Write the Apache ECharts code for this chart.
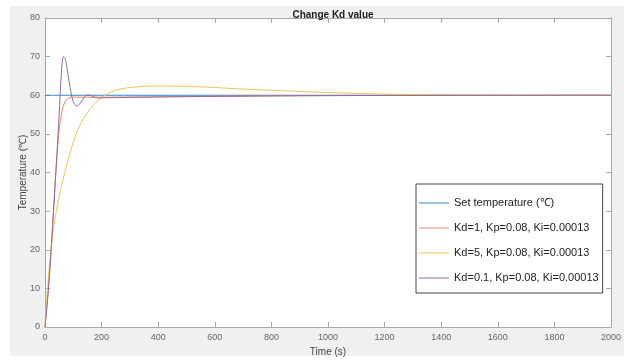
<!DOCTYPE html>
<html><head><meta charset="utf-8">
<script src="https://cdn.jsdelivr.net/npm/echarts@6/dist/echarts.min.js"></script>
<style>html,body{margin:0;padding:0;background:#fff}#c{width:624px;height:362px}</style>
</head><body><div id="c"></div>
<script>
// ---- data ----
const chartTitle = 'Change Kd value';
const xName = 'Time (s)';
const yName = 'Temperature (\u2103)';
const seriesNames = ['Set temperature (\u2103)', 'Kd=1, Kp=0.08, Ki=0.00013', 'Kd=5, Kp=0.08, Ki=0.00013', 'Kd=0.1, Kp=0.08, Ki=0.00013'];

const setTime = [0, 2000];
const setTemp = [60, 60];

const kd1Time = [0, 10, 20, 30, 40, 50, 60, 70, 80, 90, 100, 120, 150, 200, 300, 400, 600, 800, 1000, 1300, 2000];
const kd1Temp = [0, 8, 18, 30, 42, 51, 55.8, 58.2, 59.1, 59.4, 59.5, 59.5, 59.5, 59.5, 59.55, 59.6, 59.75, 59.85, 59.92, 59.97, 60];

const kd5Time = [0, 5, 10, 15, 20, 30, 40, 55, 70, 90, 110, 130, 150, 170, 190, 212, 250, 300, 383, 500, 600, 700, 830, 1000, 1200, 1400, 1600, 2000];
const kd5Temp = [0, 5.8, 11, 15.5, 19.5, 25.5, 30, 35.5, 40, 45.5, 50, 53.2, 55.5, 57.4, 58.8, 60, 61.3, 62.0, 62.4, 62.3, 62.0, 61.6, 61.2, 60.7, 60.3, 60.1, 60.0, 60.0];

const kd01Time = [0, 10, 20, 30, 40, 50, 58, 65, 72, 80, 90, 100, 112, 125, 140, 150, 160, 175, 194, 220, 260, 300, 400, 600, 800, 1000, 1200, 1500, 2000];
const kd01Temp = [0, 8, 18, 30, 42, 55, 66, 70, 69.3, 66, 61.5, 58.3, 57.2, 58, 59.6, 60.1, 60.0, 59.5, 59.3, 59.35, 59.4, 59.45, 59.55, 59.7, 59.82, 59.9, 59.95, 59.98, 60];

const xTickMin = 0, xTickMax = 2000, xTickStep = 200;
const yTickMin = 0, yTickMax = 80, yTickStep = 10;

// ---- chart ----
const pairs = (xs, ys) => xs.map((x, i) => [x, ys[i]]);
const colors = ['#2f86c8', '#e48a68', '#efc45a', '#8f6aa0'];
const axisColor = '#a8a8a8';
const font = '"Liberation Sans",Arial,sans-serif';

const baseX = {
  type: 'value', min: xTickMin, max: xTickMax, interval: xTickStep,
  axisLine: { show: true, onZero: false, lineStyle: { color: axisColor, width: 1 } },
  axisTick: { show: true, inside: true, length: 5, lineStyle: { color: axisColor } },
  splitLine: { show: false }
};
const baseY = {
  type: 'value', min: yTickMin, max: yTickMax, interval: yTickStep,
  axisLine: { show: true, onZero: false, lineStyle: { color: axisColor, width: 1 } },
  axisTick: { show: true, inside: true, length: 5, lineStyle: { color: axisColor } },
  splitLine: { show: false }
};

const chart = echarts.init(document.getElementById('c'), null, { renderer: 'canvas' });
const mk = (name, xs, ys, color) => ({
  name, type: 'line', data: pairs(xs, ys), symbol: 'none', smooth: 0.3,
  lineStyle: { color, width: 1 }, itemStyle: { color }, animation: false
});
chart.setOption({
  backgroundColor: '#ffffff',
  animation: false,
  graphic: [{ type: 'rect', z: -100, silent: true, shape: { x: 10, y: 6, width: 614, height: 350 }, style: { fill: '#f0f0f0' } }],
  title: {
    text: chartTitle, left: 328, top: 5, textAlign: 'center',
    textStyle: { fontSize: 10, fontWeight: 'bold', color: '#222', fontFamily: font }
  },
  grid: { left: 45, top: 18, width: 566, height: 313, show: true, backgroundColor: '#ffffff', borderWidth: 0 },
  xAxis: [
    Object.assign({}, baseX, {
      position: 'bottom', name: xName, nameLocation: 'middle', nameGap: 20, nameMoveOverlap: false,
      nameTextStyle: { fontSize: 10, color: '#444', fontFamily: font },
      axisLabel: { fontSize: 9, color: '#666', margin: 6, fontFamily: font, formatter: v => String(v) }
    }),
    Object.assign({}, baseX, { position: 'top', axisLabel: { show: false } })
  ],
  yAxis: [
    Object.assign({}, baseY, {
      position: 'left', name: yName, nameLocation: 'middle', nameGap: 17, nameRotate: 90, nameMoveOverlap: false,
      nameTextStyle: { fontSize: 10, color: '#444', fontFamily: font },
      axisLabel: { fontSize: 9, color: '#666', margin: 5, fontFamily: font, formatter: v => String(v) }
    }),
    Object.assign({}, baseY, { position: 'right', axisLabel: { show: false } })
  ],
  legend: {
    orient: 'vertical', left: 416, top: 184,
    padding: [12, 4, 8, 3], itemGap: 11, itemWidth: 30, itemHeight: 1, icon: 'rect',
    backgroundColor: '#ffffff', borderColor: '#444', borderWidth: 1,
    textStyle: { fontSize: 11, lineHeight: 14, color: '#222', fontFamily: font },
    data: seriesNames
  },
  series: [
    mk(seriesNames[0], setTime, setTemp, colors[0]),
    mk(seriesNames[1], kd1Time, kd1Temp, colors[1]),
    mk(seriesNames[2], kd5Time, kd5Temp, colors[2]),
    mk(seriesNames[3], kd01Time, kd01Temp, colors[3])
  ]
});
</script></body></html>
